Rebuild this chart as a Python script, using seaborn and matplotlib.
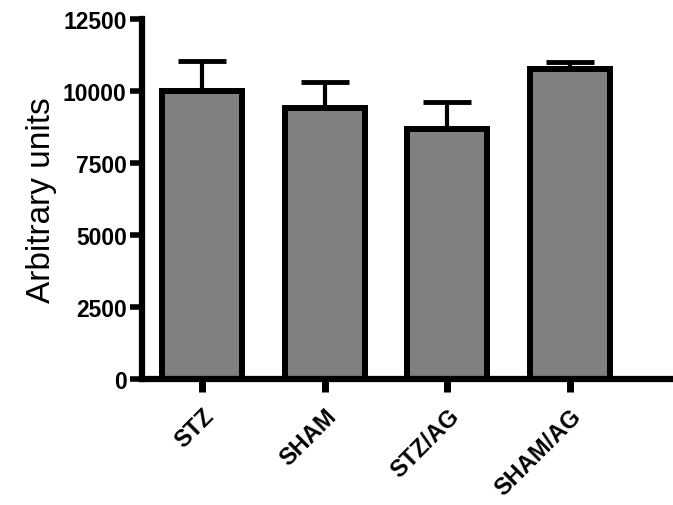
import matplotlib
matplotlib.use("Agg")
import matplotlib.pyplot as plt
import seaborn as sns
import pandas as pd
import numpy as np

groups = ["STZ", "SHAM", "STZ/AG", "SHAM/AG"]
means = [9990, 9400, 8670, 10750]
sem = [1060, 920, 960, 250]
yticks = [0, 2500, 5000, 7500, 10000, 12500]

sns.set_style("ticks")
plt.rcParams['font.family'] = ['Liberation Sans', 'DejaVu Sans']
plt.rcParams['text.color'] = 'black'

fig = plt.figure(figsize=(6.73, 5.06), dpi=100)
ax = fig.add_axes([142/673, 126/506, 531/673, 360/506])
df = pd.DataFrame({"group": groups, "value": means})
sns.barplot(data=df, x="group", y="value", order=groups, color="#808080",
            width=0.65, edgecolor="black", linewidth=4.3, errorbar=None,
            saturation=1, ax=ax, zorder=2)
ax.errorbar(np.arange(len(groups)), means,
            yerr=[np.zeros(len(sem)), sem], fmt="none", ecolor="black",
            elinewidth=3, capsize=17, capthick=3.5, zorder=1)

ax.set_xlim(-0.489, 3.84)
ax.set_ylim(0, 12500)
ax.set_yticks(yticks)
ax.set_yticklabels([str(v) for v in yticks], fontsize=16.5, fontweight="bold")
ax.set_xticks(range(len(groups)))
ax.set_xticklabels(groups, rotation=45, ha="right", rotation_mode="anchor",
                   fontsize=17, fontweight="bold")
ax.tick_params(axis="y", length=9, width=4, pad=2, colors="black", labelcolor="black")
ax.tick_params(axis="x", length=9, width=5, pad=9, colors="black", labelcolor="black")
for s in ["top", "right"]:
    ax.spines[s].set_visible(False)
for s in ["left", "bottom"]:
    ax.spines[s].set_linewidth(4.5)
    ax.spines[s].set_color("black")
ax.set_xlabel("")
ax.set_ylabel("Arbitrary units", fontsize=24, labelpad=4, color="black")

fig.savefig("out.png", dpi=100)
